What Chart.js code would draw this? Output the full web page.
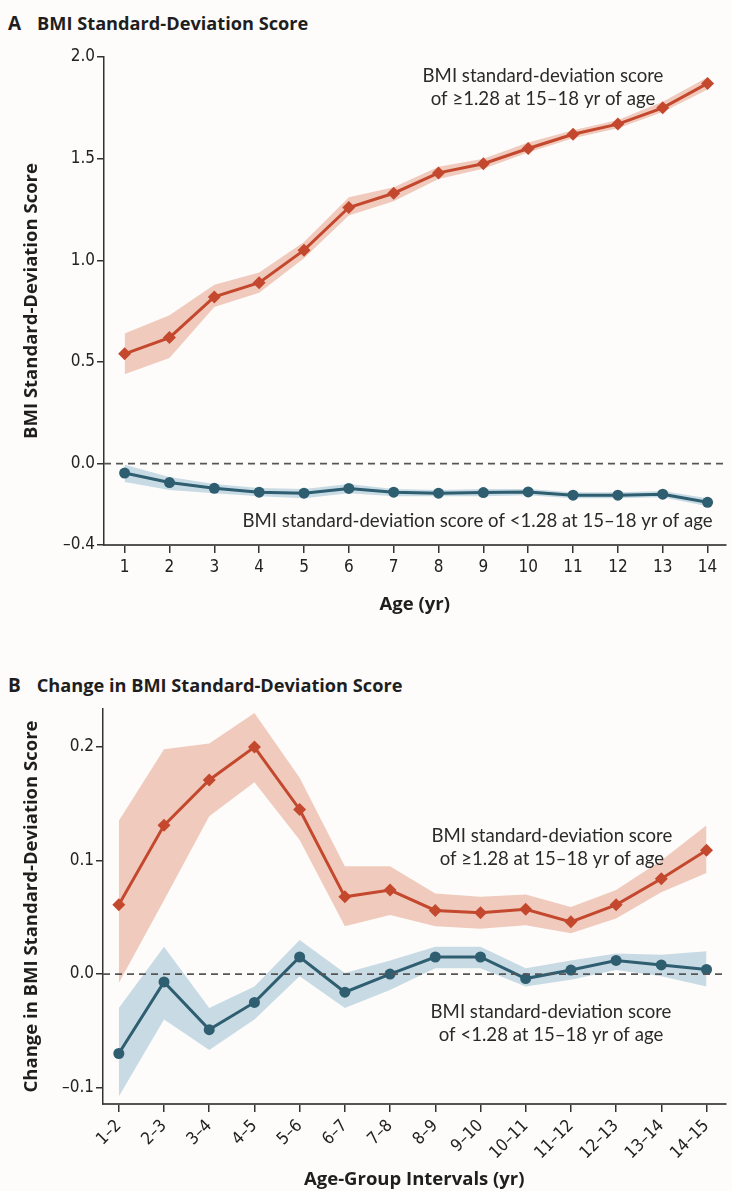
<!DOCTYPE html>
<html>
<head>
<meta charset="utf-8">
<title>BMI Standard-Deviation Score</title>
<script src="https://cdn.jsdelivr.net/npm/chart.js@4.4.1/dist/chart.umd.min.js"></script>
<style>
body { margin: 0; background: #fdfcfa; }
#page { position: relative; width: 732px; height: 1191px; overflow: hidden; }
.panel-title { position: absolute; left: 8px; font-family: "Open Sans", sans-serif; font-weight: 700; font-size: 18.2px; color: #1e1e1e; white-space: nowrap; }
.panel-title span { margin-right: 16px; font-size: 19px; }
.box { position: absolute; left: 0; width: 732px; }
</style>
</head>
<body>
<div id="page">
  <div class="panel-title" style="top:10px"><span>A</span>BMI Standard-Deviation Score</div>
  <div class="box" style="top:0;height:630px"><canvas id="chart-a" width="732" height="630"></canvas></div>
  <div class="panel-title" style="top:672px"><span>B</span>Change in BMI Standard-Deviation Score</div>
  <div class="box" style="top:630px;height:561px"><canvas id="chart-b" width="732" height="561"></canvas></div>
</div>
<script>
// Age (yr) for panel A, interval index for panel B
var ages = [1, 2, 3, 4, 5, 6, 7, 8, 9, 10, 11, 12, 13, 14];
var intervalLabels = ["1–2", "2–3", "3–4", "4–5", "5–6", "6–7", "7–8", "8–9", "9–10", "10–11", "11–12", "12–13", "13–14", "14–15"];
var yTicksA = [-0.4, 0.0, 0.5, 1.0, 1.5, 2.0];
var yTicksB = [-0.1, 0.0, 0.1, 0.2];

// Panel A: BMI SDS, group with SDS >= 1.28 at 15-18 yr
var sdsHigh      = [0.54, 0.62, 0.82, 0.89, 1.05, 1.26, 1.33, 1.43, 1.475, 1.55, 1.62, 1.67, 1.75, 1.87];
var sdsHighUpper = [0.64, 0.73, 0.88, 0.94, 1.09, 1.31, 1.36, 1.46, 1.50, 1.58, 1.64, 1.69, 1.78, 1.90];
var sdsHighLower = [0.44, 0.52, 0.77, 0.84, 1.01, 1.22, 1.29, 1.40, 1.45, 1.53, 1.60, 1.65, 1.73, 1.84];
// Panel A: group with SDS < 1.28
var sdsLow       = [-0.046, -0.093, -0.121, -0.14, -0.145, -0.122, -0.14, -0.145, -0.142, -0.139, -0.155, -0.155, -0.15, -0.19];
var sdsLowUpper  = [-0.005, -0.065, -0.10, -0.12, -0.125, -0.10, -0.125, -0.13, -0.125, -0.125, -0.14, -0.14, -0.135, -0.17];
var sdsLowLower  = [-0.09, -0.13, -0.145, -0.16, -0.17, -0.145, -0.16, -0.16, -0.16, -0.155, -0.17, -0.17, -0.165, -0.21];

// Panel B: change in BMI SDS between age intervals
var changeHigh      = [0.061, 0.131, 0.171, 0.200, 0.145, 0.068, 0.074, 0.056, 0.054, 0.057, 0.046, 0.061, 0.084, 0.109];
var changeHighUpper = [0.135, 0.198, 0.203, 0.230, 0.173, 0.095, 0.095, 0.071, 0.068, 0.070, 0.059, 0.074, 0.100, 0.131];
var changeHighLower = [-0.008, 0.065, 0.139, 0.169, 0.118, 0.042, 0.052, 0.042, 0.040, 0.043, 0.036, 0.049, 0.072, 0.089];
var changeLow       = [-0.070, -0.007, -0.049, -0.025, 0.015, -0.016, 0.000, 0.015, 0.015, -0.004, 0.0035, 0.012, 0.008, 0.004];
var changeLowUpper  = [-0.030, 0.024, -0.030, -0.011, 0.030, 0.001, 0.012, 0.024, 0.024, 0.005, 0.012, 0.018, 0.017, 0.020];
var changeLowLower  = [-0.108, -0.040, -0.067, -0.040, -0.002, -0.030, -0.014, 0.005, 0.005, -0.011, -0.005, 0.0035, -0.002, -0.011];

var RED = "#c4482e", RED_BAND = "#f0cbbd";
var BLUE = "#2e5e70", BLUE_BAND = "#c8dbe5";
var TICK_FONT = { family: "'Liberation Sans Narrow', 'DejaVu Sans Condensed', sans-serif", size: 17 };
var TITLE_FONT = { family: "'Open Sans', sans-serif", size: 18.5, weight: "bold" };
var NOTE_FONT = "18.6px Lato, 'Open Sans', sans-serif";

function toXY(values)
{
    return values.map(function(v, i){ return { x: ages[i], y: v }; });
}

function bandSets(mid, lo, hi, lineColor, bandColor, style, radius)
{
    // lower edge, upper edge filled down to it, then the line itself on top
    return [
        { data: toXY(lo), borderWidth: 0, pointRadius: 0, fill: false, order: 2 },
        { data: toXY(hi), borderWidth: 0, pointRadius: 0, fill: "-1", backgroundColor: bandColor, order: 2 },
        { data: toXY(mid), borderColor: lineColor, backgroundColor: lineColor, borderWidth: 3,
          pointStyle: style, pointRadius: radius, pointBorderWidth: 0, fill: false, order: 0 }
    ];
}

function fmtTick(v)
{
    return v < 0 ? "–" + Math.abs(v).toFixed(1) : v.toFixed(1);
}

// dashed zero line + text notes in data coordinates
var decorPlugin = {
    id: "decor",
    afterDatasetsDraw: function(chart, args, opts)
    {
        var ctx = chart.ctx, area = chart.chartArea;
        var y0 = chart.scales.y.getPixelForValue(0);
        ctx.save();
        ctx.strokeStyle = "#555";
        ctx.lineWidth = 1.8;
        ctx.setLineDash([7, 5]);
        ctx.beginPath();
        ctx.moveTo(area.left, y0);
        ctx.lineTo(area.right, y0);
        ctx.stroke();
        ctx.restore();
    },
    afterDraw: function(chart, args, opts)
    {
        var ctx = chart.ctx;
        ctx.save();
        ctx.font = NOTE_FONT;
        ctx.fillStyle = "#2a2a2a";
        ctx.textBaseline = "middle";
        (opts.notes || []).forEach(function(n){
            var px = chart.scales.x.getPixelForValue(n.x);
            var py = chart.scales.y.getPixelForValue(n.y);
            ctx.textAlign = n.align || "center";
            var top = py - (n.lines.length - 1) * 11.5;
            n.lines.forEach(function(line, i){ ctx.fillText(line, px, top + i * 23); });
        });
        ctx.restore();
    }
};

function makeChart(id, cfg)
{
    return new Chart(document.getElementById(id), {
        type: "line",
        data: { datasets: cfg.datasets },
        options: {
            responsive: false,
            animation: false,
            layout: { padding: { top: cfg.top, right: 0, left: 0, bottom: 0 } },
            plugins: { legend: { display: false }, tooltip: { enabled: false }, decor: { notes: cfg.notes } },
            scales: {
                x: {
                    type: "linear", min: cfg.xMin, max: cfg.xMax,
                    afterBuildTicks: function(s){ s.ticks = ages.map(function(v){ return { value: v }; }); },
                    afterFit: function(s){ s.height = cfg.xHeight; },
                    grid: { drawOnChartArea: false, drawTicks: true, tickLength: 8, color: "#333", lineWidth: 1.5 },
                    border: { display: true, color: "#555", width: 2 },
                    ticks: { color: "#222", font: TICK_FONT, padding: 4, autoSkip: false,
                             minRotation: cfg.rotation, maxRotation: cfg.rotation, callback: cfg.xLabel },
                    title: { display: true, text: cfg.xTitle, font: { family: TITLE_FONT.family, size: 18.5, weight: "bold" },
                             color: "#1e1e1e", padding: { top: 0, bottom: cfg.xTitlePad } }
                },
                y: {
                    type: "linear", min: cfg.yMin, max: cfg.yMax,
                    afterBuildTicks: function(s){ s.ticks = cfg.yTicks.map(function(v){ return { value: v }; }); },
                    afterFit: function(s){ s.width = cfg.yWidth; },
                    grid: { drawOnChartArea: false, drawTicks: true, tickLength: 7, color: "#333", lineWidth: 1.5 },
                    border: { display: true, color: "#333", width: 1.5 },
                    ticks: { color: "#222", font: TICK_FONT, padding: 2, callback: fmtTick },
                    title: { display: true, text: cfg.yTitle, font: TITLE_FONT, color: "#1e1e1e", padding: { top: 21, bottom: 0 } }
                }
            }
        },
        plugins: [decorPlugin]
    });
}

makeChart("chart-a", {
    datasets: bandSets(sdsHigh, sdsHighLower, sdsHighUpper, RED, RED_BAND, "rectRot", 6.5)
        .concat(bandSets(sdsLow, sdsLowLower, sdsLowUpper, BLUE, BLUE_BAND, "circle", 5.5)),
    top: 57, xHeight: 85, yWidth: 104,
    xMin: 0.54, xMax: 14.4, yMin: -0.4, yMax: 2.0, yTicks: yTicksA,
    rotation: 0, xLabel: function(v){ return String(v); }, xTitle: "Age (yr)", xTitlePad: 14,
    yTitle: "BMI Standard-Deviation Score",
    notes: [
        { x: 10.33, y: 1.85, lines: ["BMI standard-deviation score", "of ≥1.28 at 15–18 yr of age"] },
        { x: 14.11, y: -0.284, align: "right", lines: ["BMI standard-deviation score of <1.28 at 15–18 yr of age"] }
    ]
});

makeChart("chart-b", {
    datasets: bandSets(changeHigh, changeHighLower, changeHighUpper, RED, RED_BAND, "rectRot", 6.5)
        .concat(bandSets(changeLow, changeLowLower, changeLowUpper, BLUE, BLUE_BAND, "circle", 5.5)),
    top: 79, xHeight: 87, yWidth: 103,
    xMin: 0.65, xMax: 14.42, yMin: -0.1145, yMax: 0.2335, yTicks: yTicksB,
    rotation: 45, xLabel: function(v){ return intervalLabels[v - 1]; }, xTitle: "Age-Group Intervals (yr)", xTitlePad: 0,
    yTitle: "Change in BMI Standard-Deviation Score",
    notes: [
        { x: 10.58, y: 0.1115, lines: ["BMI standard-deviation score", "of ≥1.28 at 15–18 yr of age"] },
        { x: 10.56, y: -0.0436, lines: ["BMI standard-deviation score", "of <1.28 at 15–18 yr of age"] }
    ]
});
</script>
</body>
</html>
